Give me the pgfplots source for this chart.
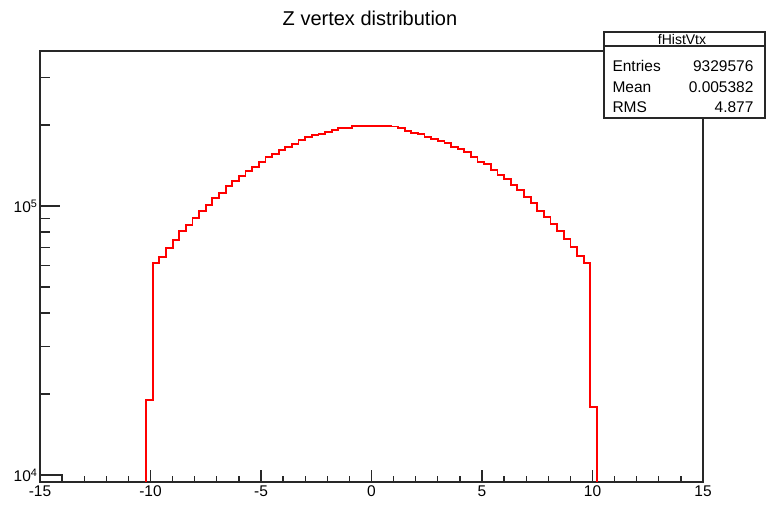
\documentclass[border=0pt]{standalone}
\usepackage{pgfplots}
\pgfplotsset{compat=1.18}
\usepackage{fontspec}
\setmainfont{Liberation Sans}
\definecolor{rootred}{RGB}{255,0,0}
\definecolor{axgray}{RGB}{40,40,40}
\begin{document}
\begin{tikzpicture}[x=1pt,y=1pt]
\fill[white] (0,0) rectangle (766,504);
\begin{axis}[
  at={(40pt,22pt)}, anchor=south west,
  scale only axis, width=663pt, height=431pt,
  xmin=-15, xmax=15,
  ymode=log, ymin=9420, ymax=377000,
  xtick={-15,-10,-5,0,5,10,15},
  xticklabels={-15,-10,-5,0,5,10,15},
  minor x tick num=4,
  ytick={10000,100000},
  yticklabels={10\textsuperscript{4},10\textsuperscript{5}},
  minor ytick={20000,30000,40000,50000,60000,70000,80000,90000,200000,300000},
  tick pos=left, tick align=inside,
  axis line style={line width=1.3pt, axgray},
  every tick/.style={line width=1.3pt, axgray},
  xtick style={/pgfplots/major tick length=12pt,/pgfplots/minor tick length=6pt},
  ytick style={/pgfplots/major tick length=20pt,/pgfplots/minor tick length=10pt},
  ticklabel style={font=\fontsize{15.5}{15.5}\selectfont},
  xticklabel style={yshift=0pt},
  yticklabel style={xshift=1pt},
  clip=true,
]
\addplot[rootred, line width=1.8pt, const plot mark left] coordinates {
(-10.5,1000) (-10.2,19000) (-9.9,61200) (-9.6,64800) (-9.3,69800) (-9.0,74700)
(-8.7,80500) (-8.4,85000) (-8.1,90200) (-7.8,95800) (-7.5,101100) (-7.2,107400)
(-6.9,112000) (-6.6,118400) (-6.3,124200) (-6.0,129600) (-5.7,135300) (-5.4,139300)
(-5.1,145400) (-4.8,151700) (-4.5,156500) (-4.2,161100) (-3.9,165700) (-3.6,170400)
(-3.3,175500) (-3.0,180500) (-2.7,183200) (-2.4,185700) (-2.1,188400) (-1.8,191600)
(-1.5,194500) (-1.2,195500) (-0.9,197800) (-0.6,198200) (-0.3,198300) (0.0,198300)
(0.3,198200) (0.6,198000) (0.9,197500) (1.2,194500) (1.5,190500) (1.8,187300)
(2.1,184700) (2.4,181000) (2.7,177500) (3.0,174500) (3.3,171000) (3.6,166100)
(3.9,162500) (4.2,158800) (4.5,152500) (4.8,146200) (5.1,142900) (5.4,136100)
(5.7,130400) (6.0,126000) (6.3,119700) (6.6,114700) (6.9,107700) (7.2,102900)
(7.5,96000) (7.8,90800) (8.1,85700) (8.4,80500) (8.7,75200) (9.0,70200)
(9.3,65300) (9.6,61200) (9.9,17900) (10.2,1000)
};
\addplot[axgray, line width=1.3pt] coordinates {(-15,10000) (-14,10000) (-14,5000)};
\end{axis}
\node[font=\fontsize{20}{20}\selectfont] at (370,486) {Z vertex distribution};
\draw[draw=axgray, fill=white, line width=1.3pt] (604,386) rectangle (765,472);
\draw[line width=1.3pt, axgray] (604,458) -- (765,458);
\node[font=\fontsize{14}{14}\selectfont] at (682,464.5) {fHistVtx};
\node[font=\fontsize{15.5}{15.5}\selectfont, anchor=west] at (609,438) {Entries};
\node[font=\fontsize{15.5}{15.5}\selectfont, anchor=west] at (609,417) {Mean};
\node[font=\fontsize{15.5}{15.5}\selectfont, anchor=west] at (609,396.5) {RMS};
\node[font=\fontsize{15.5}{15.5}\selectfont, anchor=east] at (757,438) {9329576};
\node[font=\fontsize{15.5}{15.5}\selectfont, anchor=east] at (757,417) {0.005382};
\node[font=\fontsize{15.5}{15.5}\selectfont, anchor=east] at (757,396.5) {4.877};
\pgfresetboundingbox
\path[use as bounding box] (0,0) rectangle (766,504);
\end{tikzpicture}
\end{document}
